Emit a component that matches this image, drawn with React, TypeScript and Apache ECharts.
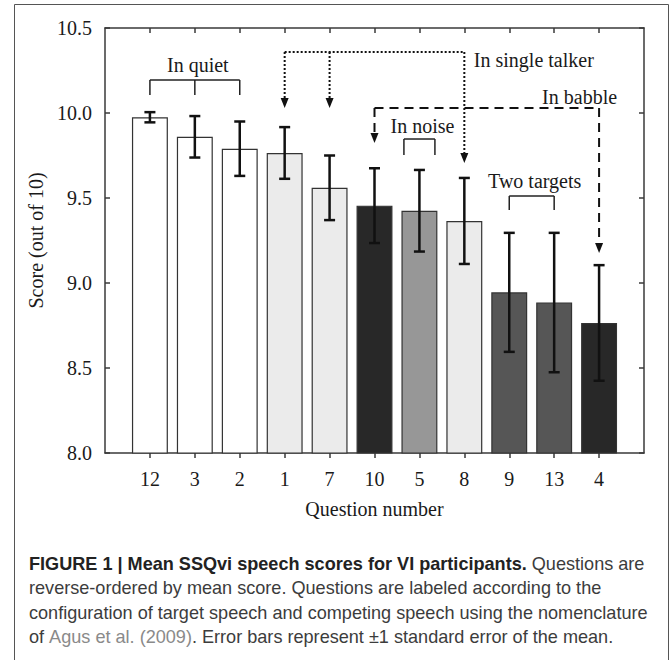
import React, { useEffect, useRef } from "react";
import * as echarts from "echarts";

// ---------- data ----------
const QUESTIONS = ["12", "3", "2", "1", "7", "10", "5", "8", "9", "13", "4"];
const MEANS = [9.975, 9.86, 9.79, 9.765, 9.56, 9.455, 9.425, 9.365, 8.945, 8.885, 8.765];
const SE = [0.03, 0.122, 0.16, 0.152, 0.19, 0.22, 0.24, 0.253, 0.35, 0.41, 0.34];
const CONDITIONS = ["quiet", "quiet", "quiet", "single", "single", "babble", "noise", "single", "two", "two", "babble"];
const Y_TICKS = [8.0, 8.5, 9.0, 9.5, 10.0, 10.5];
const X_TITLE = "Question number";
const Y_TITLE = "Score (out of 10)";

// brackets grouping questions (indices on the padded category axis)
const BRACKETS = [
  { label: "In quiet", from: 1, to: 3, barY: 10.194, footY: 10.106, labelY: 10.282, pad: 0 },
  { label: "In noise", from: 7, to: 7, barY: 9.847, footY: 9.753, labelY: 9.924, pad: 15.5 },
  { label: "Two targets", from: 9, to: 10, barY: 9.512, footY: 9.429, labelY: 9.6, pad: 0 },
];

// arrow callouts
const CALLOUTS = [
  { label: "In single talker", targets: [4, 5, 8], tips: [10.03, 10.03, 9.706], lineY: 10.359, labelY: 10.312, kind: "dotted" },
  { label: "In babble", targets: [6, 11], tips: [9.824, 9.176], lineY: 10.029, labelY: 10.094, kind: "dashed" },
];

const CAPTION_LINES = [
  "{b|FIGURE 1 | Mean SSQvi speech scores for VI participants.}{n| Questions are}",
  "{n|reverse-ordered by mean score. Questions are labeled according to the}",
  "{n|configuration of target speech and competing speech using the nomenclature}",
  "{n|of }{g|Agus et al. (2009)}{n|. Error bars represent \u00b11 standard error of the mean.}",
];

// ---------- styles ----------
const SERIF = '"Liberation Serif", "Times New Roman", serif';
const SANS = '"Liberation Sans", Arial, Helvetica, sans-serif';
const INK = "#1a1a1a";
const FRAME = "#3a3a3a";
const FILL: Record<string, string> = {
  quiet: "#ffffff",
  single: "#ebebeb",
  babble: "#282828",
  noise: "#979797",
  two: "#565656",
};

const AXIS_CATS = ["", ...QUESTIONS, ""];
const innerTick = (i: number) => i > 0 && i < AXIS_CATS.length - 1;

const CAP_SIZE = 18.1;
const CAP_STYLE = {
  b: { fontFamily: SANS, fontSize: CAP_SIZE, fontWeight: "bold", fill: "#222" },
  n: { fontFamily: SANS, fontSize: CAP_SIZE, fill: "#3c3c3c" },
  g: { fontFamily: SANS, fontSize: CAP_SIZE, fill: "#8a8a8a" },
};

function buildOption() {
  const lineStyle = { color: FRAME, width: 1.5 };
  const serifText = { fontFamily: SERIF, fontSize: 20, color: INK };
  const yMin = Y_TICKS[0];
  const yMax = Y_TICKS[Y_TICKS.length - 1];
  const yStep = Y_TICKS[1] - Y_TICKS[0];

  return {
    animation: false,
    backgroundColor: "#ffffff",
    grid: { left: 105, right: 25, top: 28, bottom: 207, containLabel: false },
    xAxis: [
      {
        type: "category",
        data: AXIS_CATS,
        boundaryGap: false,
        position: "bottom",
        axisLine: { onZero: false, lineStyle },
        axisTick: { inside: false, length: 5, interval: (i: number) => innerTick(i), lineStyle },
        axisLabel: { interval: 0, margin: 16, ...serifText },
        splitLine: { show: false },
        name: X_TITLE,
        nameLocation: "middle",
        nameGap: 46,
        nameTextStyle: serifText,
      },
      {
        type: "category",
        data: AXIS_CATS,
        boundaryGap: false,
        position: "top",
        axisLine: { onZero: false, lineStyle },
        axisTick: { inside: true, length: 5, interval: (i: number) => innerTick(i), lineStyle },
        axisLabel: { show: false },
        splitLine: { show: false },
      },
    ],
    yAxis: [
      {
        type: "value",
        min: yMin,
        max: yMax,
        interval: yStep,
        position: "left",
        axisLine: { show: true, lineStyle },
        axisTick: { show: true, inside: true, length: 5, lineStyle },
        axisLabel: { margin: 13, formatter: (v: number) => v.toFixed(1), ...serifText },
        splitLine: { show: false },
        name: Y_TITLE,
        nameLocation: "middle",
        nameGap: 43,
        nameRotate: 90,
        nameTextStyle: serifText,
      },
      {
        type: "value",
        min: yMin,
        max: yMax,
        interval: yStep,
        position: "right",
        axisLine: { show: true, lineStyle },
        axisTick: { show: true, inside: true, length: 5, lineStyle },
        axisLabel: { show: false },
        splitLine: { show: false },
      },
    ],
    series: [
      {
        type: "bar",
        xAxisIndex: 0,
        yAxisIndex: 0,
        barWidth: "80%",
        clip: true,
        itemStyle: { borderColor: "#333", borderWidth: 1.2 },
        data: ["-", ...MEANS.map((v, i) => ({ value: v, itemStyle: { color: FILL[CONDITIONS[i]] } })), "-"],
        z: 2,
      },
      {
        type: "custom",
        xAxisIndex: 0,
        yAxisIndex: 0,
        z: 5,
        encode: { x: 0, y: 1 },
        data: MEANS.map((m, i) => [i + 1, m, SE[i]]),
        renderItem: (_p: any, api: any) => {
          const x = api.value(0);
          const m = api.value(1);
          const s = api.value(2);
          const top = api.coord([x, m + s]);
          const bot = api.coord([x, m - s]);
          const cx = top[0];
          const half = 5.5;
          const st = { stroke: "#111", lineWidth: 2.5 };
          return {
            type: "group",
            children: [
              { type: "line", shape: { x1: cx, y1: top[1], x2: cx, y2: bot[1] }, style: st },
              { type: "line", shape: { x1: cx - half, y1: top[1], x2: cx + half, y2: top[1] }, style: st },
              { type: "line", shape: { x1: cx - half, y1: bot[1], x2: cx + half, y2: bot[1] }, style: st },
            ],
          };
        },
      },
      {
        type: "custom",
        xAxisIndex: 0,
        yAxisIndex: 0,
        z: 6,
        encode: { x: 0, y: 1 },
        data: BRACKETS.map((b) => [b.from, b.barY]),
        renderItem: (params: any, api: any) => {
          const b = BRACKETS[params.dataIndex];
          const L = api.coord([b.from, b.barY]);
          const R = api.coord([b.to, b.barY]);
          const footY = api.coord([b.from, b.footY])[1];
          const labY = api.coord([b.from, b.labelY])[1];
          const x1 = L[0] - b.pad;
          const x2 = R[0] + b.pad;
          const xs = [x1, x2];
          for (let k = b.from + 1; k < b.to; k++) xs.push(api.coord([k, b.barY])[0]);
          const st = { stroke: "#222", lineWidth: 1.5 };
          const children: any[] = [
            { type: "line", shape: { x1, y1: L[1], x2, y2: L[1] }, style: st },
            ...xs.map((x) => ({ type: "line", shape: { x1: x, y1: L[1], x2: x, y2: footY }, style: st })),
            {
              type: "text",
              style: {
                text: b.label,
                x: (x1 + x2) / 2 + 3,
                y: labY,
                align: "center",
                verticalAlign: "middle",
                fontFamily: SERIF,
                fontSize: 20,
                fill: INK,
              },
            },
          ];
          return { type: "group", children };
        },
      },
      {
        type: "custom",
        xAxisIndex: 0,
        yAxisIndex: 0,
        z: 7,
        encode: { x: 0, y: 1 },
        data: CALLOUTS.map((c) => [c.targets[0], c.lineY]),
        renderItem: (params: any, api: any) => {
          const c = CALLOUTS[params.dataIndex];
          const dash = c.kind === "dotted" ? [2, 2] : [9, 6];
          const st = { stroke: "#111", lineWidth: 2, lineDash: dash };
          const lineY = api.coord([c.targets[0], c.lineY])[1];
          const xs = c.targets.map((t) => api.coord([t, c.lineY])[0]);
          const aw = 4;
          const ah = 10;
          const children: any[] = [
            { type: "line", shape: { x1: xs[0], y1: lineY, x2: xs[xs.length - 1], y2: lineY }, style: st },
          ];
          xs.forEach((x, i) => {
            const tipY = api.coord([c.targets[i], c.tips[i]])[1];
            children.push({ type: "line", shape: { x1: x, y1: lineY, x2: x, y2: tipY - ah }, style: st });
            children.push({
              type: "polygon",
              shape: { points: [[x - aw, tipY - ah], [x + aw, tipY - ah], [x, tipY]] },
              style: { fill: "#111" },
            });
          });
          const lastX = xs[xs.length - 1];
          const labY = api.coord([c.targets[0], c.labelY])[1];
          const isDotted = c.kind === "dotted";
          children.push({
            type: "text",
            style: {
              text: c.label,
              x: isDotted ? lastX + 9.5 : lastX + 18,
              y: labY,
              align: isDotted ? "left" : "right",
              verticalAlign: "middle",
              fontFamily: SERIF,
              fontSize: 20,
              fill: INK,
            },
          });
          return { type: "group", children };
        },
      },
    ],
    graphic: [
      {
        type: "rect",
        silent: true,
        shape: { x: 14.5, y: 4.5, width: 654, height: 700 },
        style: { fill: "none", stroke: "#555", lineWidth: 1 },
      },
      ...CAPTION_LINES.map((t, i) => ({
        type: "text",
        silent: true,
        x: 29,
        y: 564 + i * 24.3,
        style: {
          text: t,
          fontFamily: SANS,
          fontSize: CAP_SIZE,
          fill: "#3c3c3c",
          verticalAlign: "middle",
          align: "left",
          rich: CAP_STYLE,
        },
      })),
    ],
  };
}

export default function App() {
  const ref = useRef<HTMLDivElement>(null);
  useEffect(() => {
    if (!ref.current) return;
    const chart = echarts.init(ref.current, null, { renderer: "svg" });
    chart.setOption(buildOption() as any);
    return () => chart.dispose();
  }, []);
  return (
    <div
      ref={ref}
      style={{ position: "absolute", left: 0, top: 0, width: 669, height: 660, background: "#fff" }}
    />
  );
}
